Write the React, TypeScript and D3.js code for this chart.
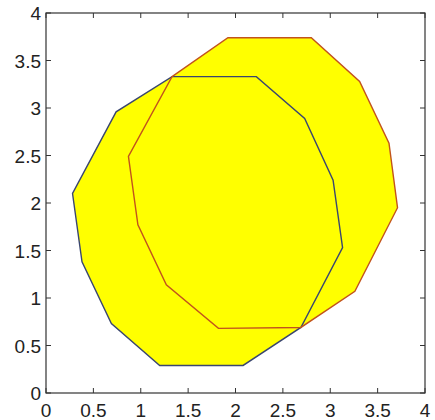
import React from 'react';
import * as d3 from 'd3';

// polygon vertices
const blueX = [1.33, 2.22, 2.73, 3.03, 3.13, 2.69, 2.08, 1.2, 0.69, 0.38, 0.28, 0.74];
const blueY = [3.33, 3.33, 2.89, 2.24, 1.53, 0.69, 0.29, 0.29, 0.73, 1.38, 2.1, 2.96];
const redX = [1.33, 1.92, 2.8, 3.31, 3.62, 3.71, 3.26, 2.69, 1.82, 1.27, 0.97, 0.87];
const redY = [3.33, 3.74, 3.74, 3.28, 2.63, 1.95, 1.07, 0.69, 0.68, 1.14, 1.77, 2.49];
const ticks = [0, 0.5, 1, 1.5, 2, 2.5, 3, 3.5, 4];

const width = 435;
const height = 420;
const left = 46, right = 425, top = 13, bottom = 393;

const App = () => {
  const x = d3.scaleLinear().domain([0, 4]).range([left, right]);
  const y = d3.scaleLinear().domain([0, 4]).range([bottom, top]);
  const line = d3
    .line<[number, number]>()
    .x((d) => x(d[0]))
    .y((d) => y(d[1]))
    .curve(d3.curveLinearClosed);

  const blue = blueX.map((v, i) => [v, blueY[i]] as [number, number]);
  const red = redX.map((v, i) => [v, redY[i]] as [number, number]);
  const axisColor = '#333';
  const font = 'Liberation Sans, Arial, sans-serif';

  return (
    <svg
      width={width}
      height={height}
      style={{ position: 'absolute', left: 0, top: 0, background: '#fff' }}
    >
      {/* fills first so both outlines stay visible */}
      <path d={line(blue) || ''} fill="#ffff00" stroke="none" />
      <path d={line(red) || ''} fill="#ffff00" stroke="none" />
      <path d={line(blue) || ''} fill="none" stroke="#3a4670" strokeWidth={1.4} />
      <path d={line(red) || ''} fill="none" stroke="#c2531c" strokeWidth={1.4} />

      <rect
        x={left}
        y={top}
        width={right - left}
        height={bottom - top}
        fill="none"
        stroke={axisColor}
        strokeWidth={1.2}
      />
      {ticks.map((t) => (
        <g key={'t' + t}>
          <line x1={x(t)} x2={x(t)} y1={bottom} y2={bottom - 5} stroke={axisColor} />
          <line x1={x(t)} x2={x(t)} y1={top} y2={top + 5} stroke={axisColor} />
          <line x1={left} x2={left + 5} y1={y(t)} y2={y(t)} stroke={axisColor} />
          <line x1={right} x2={right - 5} y1={y(t)} y2={y(t)} stroke={axisColor} />
          <text
            x={x(t)}
            y={417}
            textAnchor="middle"
            fontFamily={font}
            fontSize={19}
            fill="#222"
          >
            {t}
          </text>
          <text
            x={41}
            y={y(t) + 7}
            textAnchor="end"
            fontFamily={font}
            fontSize={19}
            fill="#222"
          >
            {t}
          </text>
        </g>
      ))}
    </svg>
  );
};

export default App;
